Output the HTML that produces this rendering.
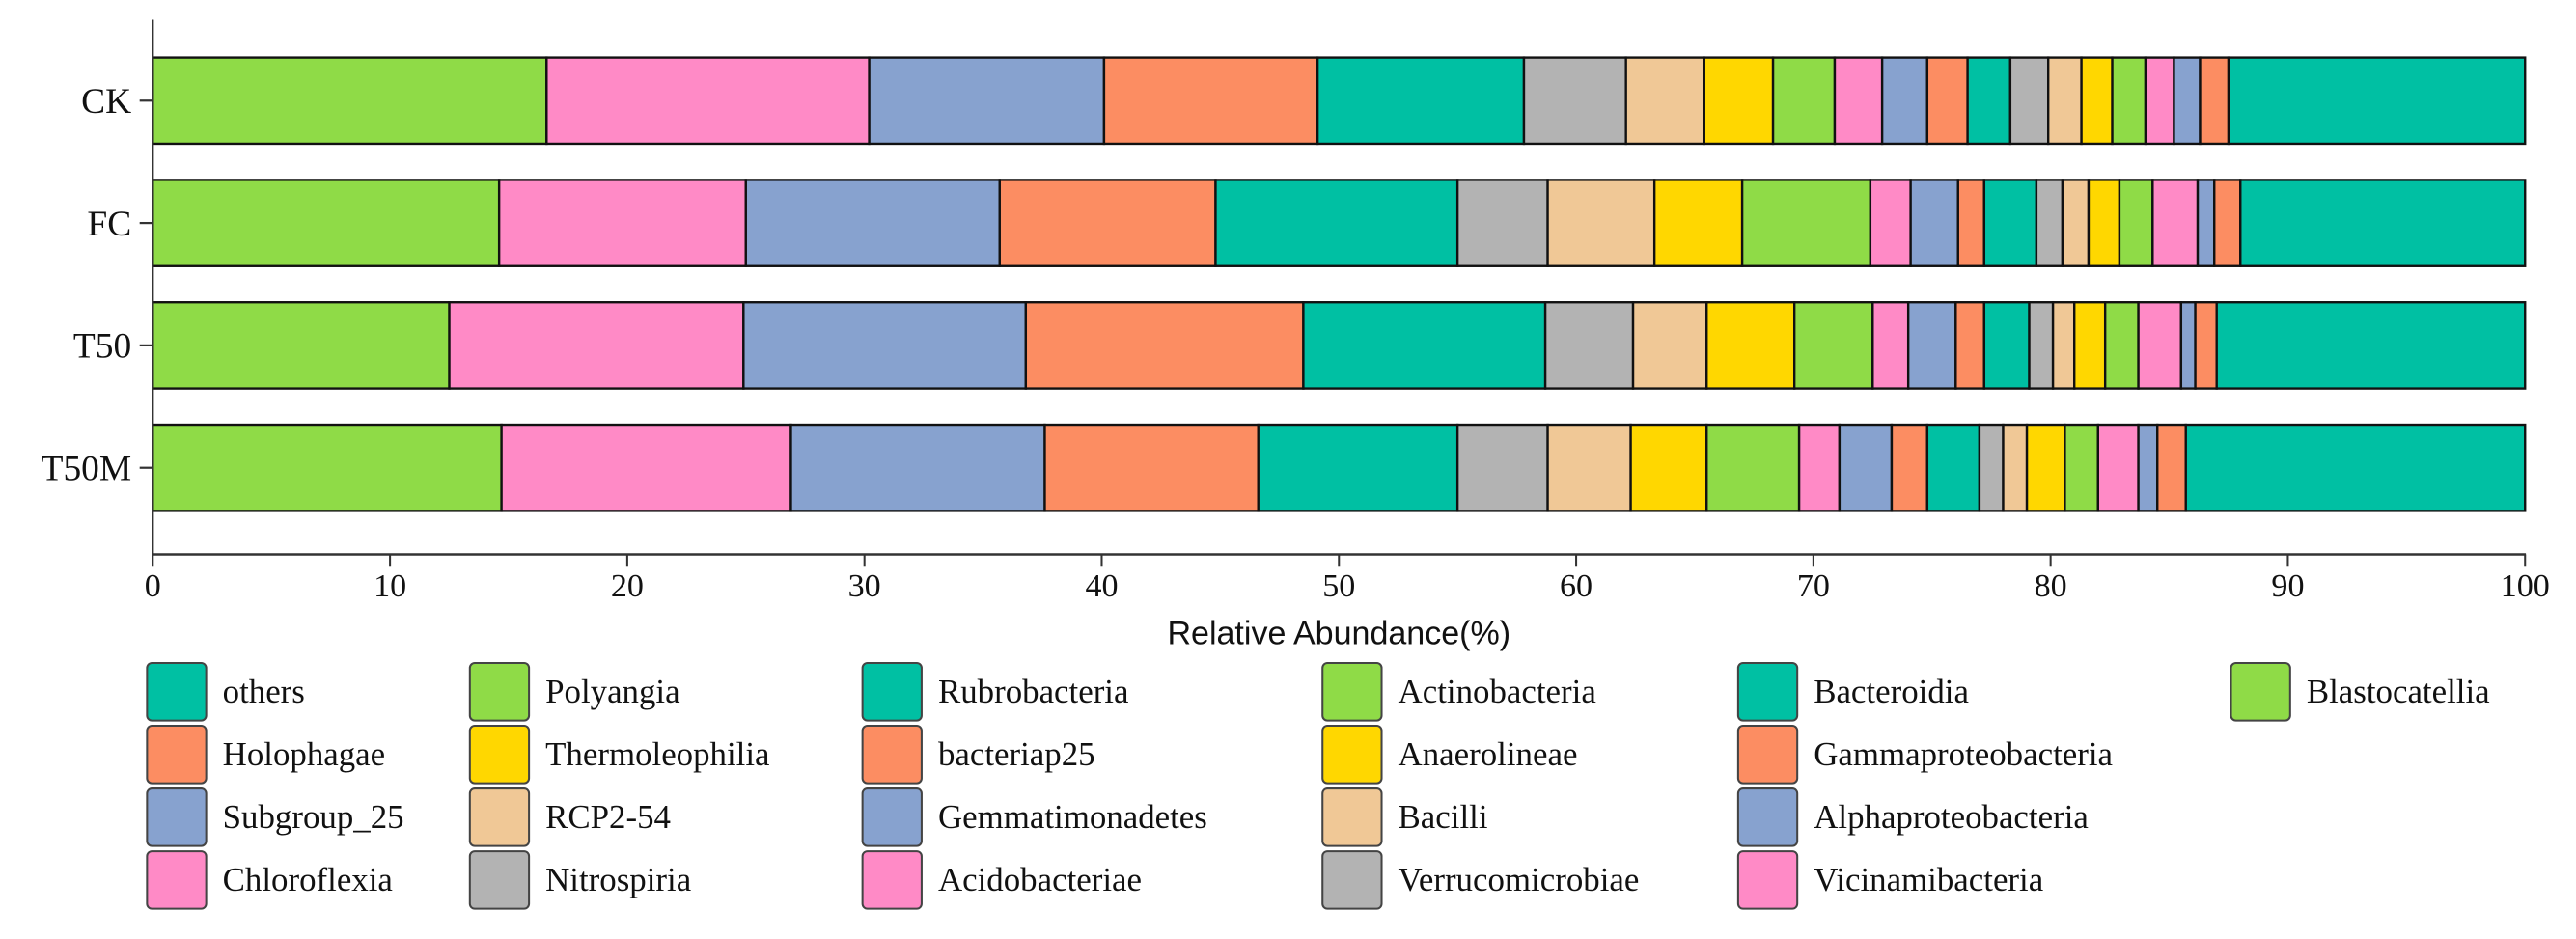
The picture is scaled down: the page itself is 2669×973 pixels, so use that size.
<!DOCTYPE html>
<html><head><meta charset="utf-8"><style>
html,body{margin:0;padding:0;background:#fff;}
svg{display:block;}
</style></head><body>
<svg id="chart" width="2669" height="973" viewBox="0 0 1568 571.6" xmlns="http://www.w3.org/2000/svg"></svg>
<script>
const samples = ["CK","FC","T50","T50M"];
const taxa = ["Blastocatellia","Vicinamibacteria","Alphaproteobacteria","Gammaproteobacteria","Bacteroidia","Verrucomicrobiae","Bacilli","Anaerolineae","Actinobacteria","Acidobacteriae","Gemmatimonadetes","bacteriap25","Rubrobacteria","Nitrospiria","RCP2-54","Thermoleophilia","Polyangia","Chloroflexia","Subgroup_25","Holophagae","others"];
const valuesCK   = [16.6,13.6,9.9,9.0,8.7,4.3,3.3,2.9,2.6,2.0,1.9,1.7,1.8,1.6,1.4,1.3,1.4,1.2,1.1,1.2,12.5];
const valuesFC   = [14.6,10.4,10.7,9.1,10.2,3.8,4.5,3.7,5.4,1.7,2.0,1.1,2.2,1.1,1.1,1.3,1.4,1.9,0.7,1.1,12.0];
const valuesT50  = [12.5,12.4,11.9,11.7,10.2,3.7,3.1,3.7,3.3,1.5,2.0,1.2,1.9,1.0,0.9,1.3,1.4,1.8,0.6,0.9,13.0];
const valuesT50M = [14.7,12.2,10.7,9.0,8.4,3.8,3.5,3.2,3.9,1.7,2.2,1.5,2.2,1.0,1.0,1.6,1.4,1.7,0.8,1.2,14.3];
const xTicks = [0,10,20,30,40,50,60,70,80,90,100];
const legendOrder = ["others","Holophagae","Subgroup_25","Chloroflexia","Polyangia","Thermoleophilia","RCP2-54","Nitrospiria","Rubrobacteria","bacteriap25","Gemmatimonadetes","Acidobacteriae","Actinobacteria","Anaerolineae","Bacilli","Verrucomicrobiae","Bacteroidia","Gammaproteobacteria","Alphaproteobacteria","Vicinamibacteria","Blastocatellia"];

const palette = ["#8FDB47","#FF8AC6","#87A2CF","#FC8D62","#00C0A3","#B3B3B3","#F0C896","#FFD700"];
const colorOf = t => palette[taxa.indexOf(t) % 8];
const allValues = [valuesCK, valuesFC, valuesT50, valuesT50M];

const NS = "http://www.w3.org/2000/svg";
const svg = document.getElementById("chart");
const X0 = 93, X1 = 1537;
const xScale = v => X0 + (X1 - X0) * v / 100;
const rowTop = [35, 109.5, 184, 258.5];
const barH = 52.5;
const yBand = i => rowTop[0] + i * (rowTop[1]-rowTop[0]);
function mk(tag, attrs, parent){ const e=document.createElementNS(NS,tag); for(const k in attrs) e.setAttribute(k,attrs[k]); (parent||svg).appendChild(e); return e; }

// bars
samples.forEach((s, i) => {
  const g = mk("g", {});
  
  
  let cum = 0;
  const y = yBand(i);
  allValues[i].forEach((v, j) => {
    const r = mk("rect", {x: xScale(cum), y: y, width: xScale(cum+v)-xScale(cum), height: barH, fill: colorOf(taxa[j]), stroke:"#111", "stroke-width":1.4}, g);
    
    
    cum += v;
  });
  const t = mk("text", {x: 80, y: y + barH/2 + 7.5, "text-anchor":"end", "font-family":"Liberation Serif, serif", "font-size":22, fill:"#111"});
  t.textContent = s;
  
  
  mk("line", {x1:85, x2:93, y1:y+barH/2, y2:y+barH/2, stroke:"#333", "stroke-width":1.3});
});

// axes
const ya = mk("line", {x1:93, x2:93, y1:12, y2:338, stroke:"#333", "stroke-width":1.3});


const xa = mk("line", {x1:92.5, x2:1537.5, y1:337.5, y2:337.5, stroke:"#333", "stroke-width":1.5});


xTicks.forEach(v => {
  mk("line", {x1:xScale(v), x2:xScale(v), y1:337.5, y2:345, stroke:"#333", "stroke-width":1.2});
  const t = mk("text", {x:xScale(v), y:363, "text-anchor":"middle", "font-family":"Liberation Serif, serif", "font-size":20, fill:"#111"});
  t.textContent = v;
  
  
});
const xt = mk("text", {x:815, y:392, "text-anchor":"middle", "font-family":"Liberation Sans, sans-serif", "font-size":20, fill:"#111"});
xt.textContent = "Relative Abundance(%)";



// legend
const colX = [89.5, 286, 525, 805, 1058, 1358];
const rowY = [403.6, 441.8, 480, 518.2];
const colCounts = [4,4,4,4,4,1];
let k = 0;
colX.forEach((cx, c) => {
  for (let r = 0; r < colCounts[c]; r++) {
    const name = legendOrder[k++];
    const g = mk("g", {});
    
    
    mk("rect", {x:cx, y:rowY[r], width:36, height:35, rx:3, fill:colorOf(name), stroke:"#444", "stroke-width":1.2}, g);
    const t = mk("text", {x:cx+46, y:rowY[r]+24, "font-family":"Liberation Serif, serif", "font-size":20.5, fill:"#111"}, g);
    t.textContent = name;
  }
});
</script>
</body></html>
